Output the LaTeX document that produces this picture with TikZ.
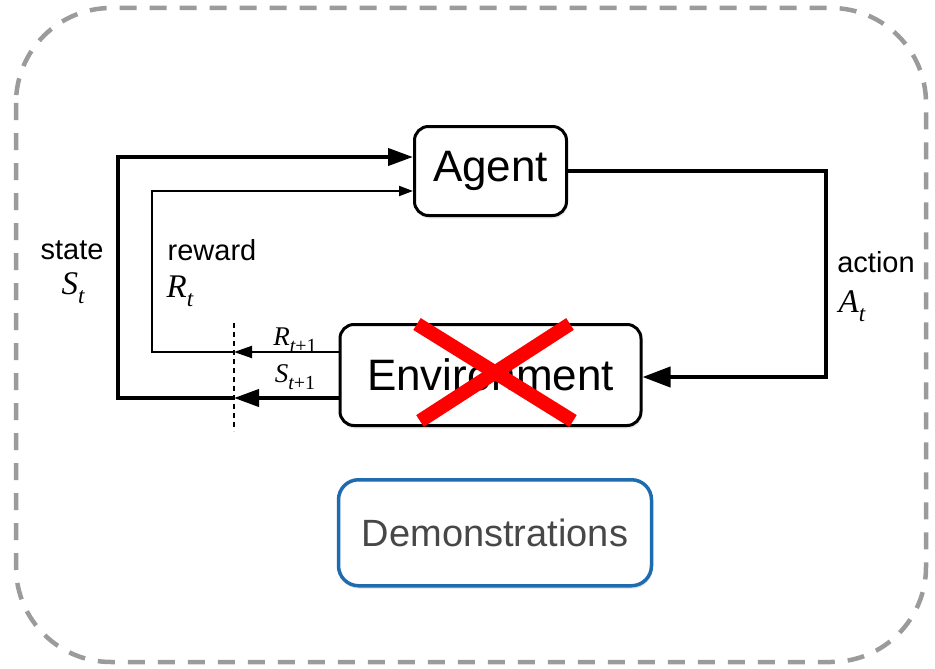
\documentclass[tikz,border=0pt]{standalone}
\usepackage{fontspec}
\setmainfont{Liberation Sans}
\newfontfamily\symfont{Liberation Serif}
\usepackage{tikz}
\usetikzlibrary{arrows.meta,positioning,shadows}
\definecolor{demoblue}{HTML}{1F6BB0}
\definecolor{demogray}{HTML}{474747}
\definecolor{framegray}{HTML}{9B9B9B}
\definecolor{crossred}{HTML}{FF0000}
% variable with lowered index: letter, index, index size
\newcommand{\rlvar}[3]{{\symfont\itshape #1\raisebox{-0.27em}{\fontsize{#3}{#3}\selectfont #2}}}

\begin{document}
\begin{tikzpicture}[x=1pt,y=-1pt,
  box/.style={draw=black,line width=3pt,fill=white,rounded corners=14pt,font=\fontsize{44}{50}\selectfont,drop shadow={opacity=0.18,shadow xshift=1pt,shadow yshift=-3pt}},
  demo/.style={draw=demoblue,line width=3.5pt,fill=white,rounded corners=20pt,text=demogray,font=\fontsize{38}{44}\selectfont,minimum width=313pt,minimum height=106pt,drop shadow={opacity=0.18,shadow xshift=1pt,shadow yshift=-3pt}},
  lbl/.style={font=\fontsize{29}{33}\selectfont},
  varlbl/.style={font=\fontsize{33}{36}\selectfont},
  sublbl/.style={font=\fontsize{27}{30}\selectfont},
  bigline/.style={line width=4pt},
  thinline/.style={line width=2pt},
  bigtip/.style={-{Triangle[length=25pt,width=17pt]}},
  smalltip/.style={-{Triangle[length=18pt,width=12pt]}},
  cutline/.style={line width=1.3pt,dash pattern=on 5pt off 4pt},
  cross/.style={draw=crossred,line width=14pt},
  frame/.style={draw=framegray,line width=4.5pt,dash pattern=on 17pt off 13pt,rounded corners=95pt}
]
\useasboundingbox (0,0) rectangle (935,669);

% dashed frame
\draw[frame] (16,8) rectangle (926,662);

% agent and environment
\node[box,minimum width=152pt,minimum height=89pt] (agent) at (490.5,171) {Agent};
\node[box,minimum width=301pt,minimum height=101pt,below=106pt of agent] (env) {Environment};
\node[demo,below=51pt of env,xshift=4.5pt] (demo) {Demonstrations};

% cut between time steps
\coordinate (cuttop) at (234,323);
\coordinate (cutbot) at (234,431);
\coordinate (sin) at (234,398);
\coordinate (rin) at (234,352);
\draw[cutline] (cuttop) -- (cutbot);

% state and reward loops
\draw[bigline,bigtip] ([yshift=-23pt]env.west) -- (sin);
\draw[bigline,bigtip] (sin) -- ++(-116,0) |- ([yshift=14pt]agent.west);
\draw[thinline,smalltip] ([yshift=23pt]env.west) -- (rin);
\draw[thinline,-{Triangle[length=14pt,width=10pt]}] (rin) -- ++(-82,0) |- ([yshift=-20pt]agent.west);

% action
\draw[bigline,-{Triangle[length=28pt,width=20pt]}] (agent.east) -- ++(258,0) |- ([yshift=-2pt]env.east);

% labels
\node[lbl] (state) at (72,250) {state};
\node[varlbl] (st) at (73,288) {\rlvar{S}{t}{23}};
\node[lbl] (reward) at (212,250) {reward};
\node[varlbl] (rt) at (180,291) {\rlvar{R}{t}{23}};
\node[lbl] (action) at (876,262) {action};
\node[varlbl] (at) at (852,306) {\rlvar{A}{t}{23}};
\node[sublbl] (rnext) at (295,340) {\rlvar{R}{t\upshape+1}{20}};
\node[sublbl] (snext) at (295,377) {\rlvar{S}{t\upshape+1}{20}};

% crossed out
\draw[cross] (417,324) -- (573,421);
\draw[cross] (570,324) -- (420,421);
\end{tikzpicture}
\end{document}
